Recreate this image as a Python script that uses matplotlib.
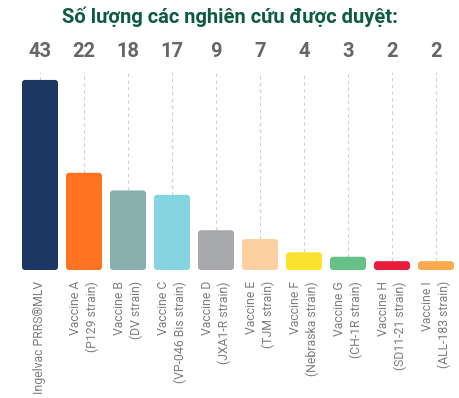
import matplotlib
matplotlib.use("Agg")
import matplotlib.pyplot as plt
from matplotlib.patches import FancyBboxPatch

title = "Số lượng các nghiên cứu được duyệt:"
categories = [
    "Ingelvac PRRS®MLV",
    "Vaccine A\n(P129 strain)",
    "Vaccine B\n(DV strain)",
    "Vaccine C\n(VP-046 Bis strain)",
    "Vaccine D\n(JXA1-R strain)",
    "Vaccine E\n(TJM strain)",
    "Vaccine F\n(Nebraska strain)",
    "Vaccine G\n(CH-1R strain)",
    "Vaccine H\n(SD11-21 strain)",
    "Vaccine I\n(ALL-183 strain)",
]
values = [43, 22, 18, 17, 9, 7, 4, 3, 2, 2]
colors = ["#1c3764", "#ff7321", "#88afad", "#84d3df", "#a7a8ab",
          "#fccfa1", "#fbe22c", "#67c186", "#ea1b3d", "#fbaa4c"]

W, H = 459, 398
fig = plt.figure(figsize=(W / 100, H / 100), dpi=100)
ax_l, ax_r, ax_t, ax_b = 18, 458, 72, 270
ax = fig.add_axes([ax_l / W, 1 - ax_b / H, (ax_r - ax_l) / W, (ax_b - ax_t) / H])

ymax = (ax_b - ax_t) / 4.42
x = list(range(len(values)))
ax.set_xlim(-0.5, len(values) - 0.5)
ax.set_ylim(0, ymax)

# dashed guide lines from top down to each bar
ax.vlines(x, values, ymax, colors="#d0d0d0", linestyles=(0, (3, 3)), lw=0.8, zorder=1)

bars = ax.bar(x, values, width=0.818, color=colors, zorder=2)
# replace with rounded bars
px_per_x = (ax_r - ax_l) / len(values)
px_per_y = (ax_b - ax_t) / ymax
r_px = 3.0
aspect = (1 / px_per_y) / (1 / px_per_x)
for b in bars:
    bx, by = b.get_x(), b.get_y()
    bw, bh = b.get_width(), b.get_height()
    b.set_visible(False)
    p = FancyBboxPatch((bx, by), bw, bh,
                       boxstyle=f"round,pad=0,rounding_size={r_px / px_per_x}",
                       mutation_aspect=aspect,
                       facecolor=b.get_facecolor(), edgecolor="none", zorder=2)
    ax.add_patch(p)

for xi, v in zip(x, values):
    ax.annotate(str(v), xy=(xi, 1), xycoords=("data", "axes fraction"),
                xytext=(0, 15), textcoords="offset points",
                ha="center", va="center", fontsize=14.5, fontweight="bold",
                color="#666666", family="Roboto")

ax.set_xticks(x)
ax.set_xticklabels(categories, rotation=90, ha="center", va="top",
                   multialignment="right", fontsize=8.8, color="#7d7d7d",
                   family="Roboto", fontweight="normal", linespacing=1.3)
ax.tick_params(axis="x", length=0, pad=8)
ax.set_yticks([])
for s in ax.spines.values():
    s.set_visible(False)

fig.text(0.5, 1 - 17 / H, title, ha="center", va="center", fontsize=14.5,
         fontweight="bold", color="#0e5a42", family="Roboto")

fig.savefig("out.png", dpi=100)
